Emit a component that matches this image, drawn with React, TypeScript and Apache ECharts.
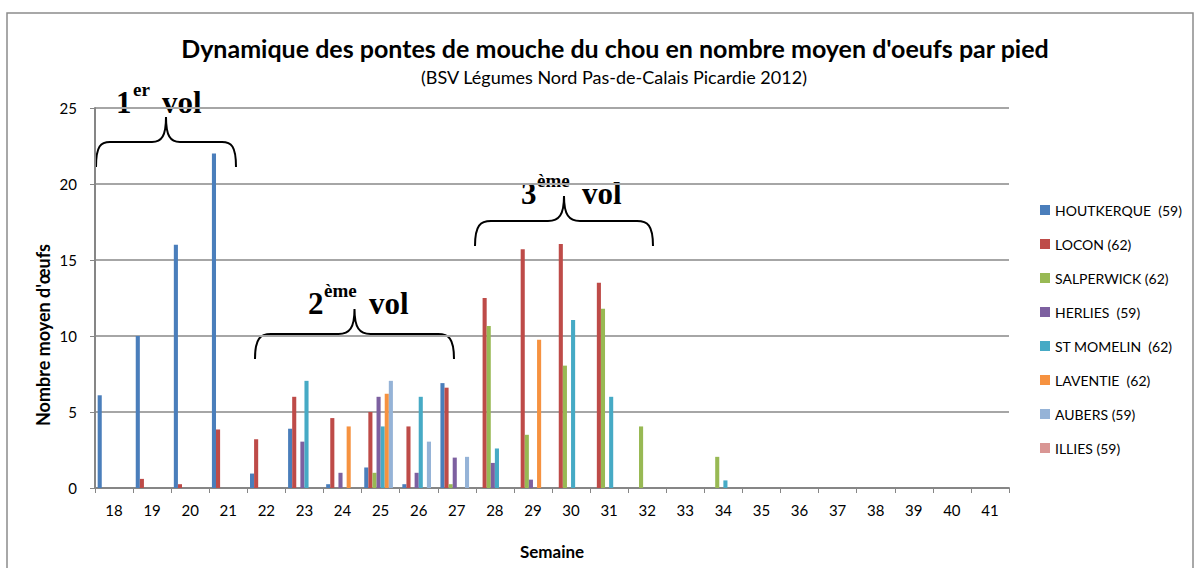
import React, { useEffect, useRef } from "react";
import * as echarts from "echarts";

const weeks = ["18", "19", "20", "21", "22", "23", "24", "25", "26", "27", "28", "29", "30", "31", "32", "33", "34", "35", "36", "37", "38", "39", "40", "41"];

const houtkerque = [6.1, 10, 16, 22, 0.95, 3.9, 0.25, 1.35, 0.25, 6.9, null, null, null, null, null, null, null, null, null, null, null, null, null, null];
const locon = [null, 0.6, 0.25, 3.85, 3.2, 6, 4.6, 5, 4.05, 6.6, 12.5, 15.7, 16.05, 13.5, null, null, null, null, null, null, null, null, null, null];
const salperwick = [null, null, null, null, null, null, null, 1, null, 0.25, 10.65, 3.5, 8.05, 11.8, 4.05, null, 2.05, null, null, null, null, null, null, null];
const herlies = [null, null, null, null, null, 3.05, 1, 6, 1, 2, 1.65, 0.55, null, null, null, null, null, null, null, null, null, null, null, null];
const stMomelin = [null, null, null, null, null, 7.05, null, 4.05, 6, null, 2.6, null, 11.05, 6, null, null, 0.5, null, null, null, null, null, null, null];
const laventie = [null, null, null, null, null, null, 4.05, 6.2, null, null, null, 9.75, null, null, null, null, null, null, null, null, null, null, null, null];
const aubers = [null, null, null, null, null, null, null, 7.05, 3.05, 2.05, null, null, null, null, null, null, null, null, null, null, null, null, null, null];
const illies = [null, null, null, null, null, null, null, null, null, null, null, null, null, null, null, null, null, null, null, null, null, null, null, null];

const seriesNames = ["HOUTKERQUE  (59)", "LOCON (62)", "SALPERWICK (62)", "HERLIES  (59)", "ST MOMELIN  (62)", "LAVENTIE  (62)", "AUBERS (59)", "ILLIES (59)"];
const seriesData = [houtkerque, locon, salperwick, herlies, stMomelin, laventie, aubers, illies];
const seriesColors = ["#4A7EBB", "#BE4B48", "#98B954", "#7D60A0", "#46AAC5", "#F69240", "#95B3D7", "#D99694"];

const yTicks = { min: 0, max: 25, interval: 5 };

const titleText = "Dynamique des pontes de mouche du chou en nombre moyen d'oeufs par pied";
const subtitleText = "(BSV Légumes Nord Pas-de-Calais Picardie 2012)";
const yAxisTitle = "Nombre moyen d'œufs";
const xAxisTitle = "Semaine";

function braceD(w: number, h: number): string {
  const m = h * 0.5;
  const c = Math.min(w * 0.1, 16);
  const hw = w / 2;
  return (
    `M0 ${h} C0 ${m + (h - m) * 0.15} ${c * 0.35} ${m} ${c} ${m} ` +
    `L${hw - c} ${m} C${hw - c * 0.3} ${m} ${hw} ${m * 0.75} ${hw} 0 ` +
    `C${hw} ${m * 0.75} ${hw + c * 0.3} ${m} ${hw + c} ${m} ` +
    `L${w - c} ${m} C${w - c * 0.35} ${m} ${w} ${m + (h - m) * 0.15} ${w} ${h}`
  );
}

let registered = false;
function registerBraces() {
  if (registered) return;
  registered = true;
  echarts.graphic.registerShape("brace1", echarts.graphic.extendPath(braceD(140, 50), {}));
  echarts.graphic.registerShape("brace2", echarts.graphic.extendPath(braceD(199, 50), {}));
  echarts.graphic.registerShape("brace3", echarts.graphic.extendPath(braceD(178, 50), {}));
}

const serif = '"Liberation Serif", "Times New Roman", serif';
const sans = 'Lato, "Noto Sans", sans-serif';

function txt(text: string, x: number, y: number, font: string, extra: any = {}) {
  return {
    type: "text",
    x,
    y,
    style: {
      text,
      font,
      fill: "#000",
      align: "left",
      textAlign: "left",
      verticalAlign: "middle",
      textVerticalAlign: "middle",
      ...extra,
    },
  };
}

export default function App() {
  const ref = useRef<HTMLDivElement>(null);

  useEffect(() => {
    if (!ref.current) return;
    registerBraces();
    const chart = echarts.init(ref.current, null, { renderer: "svg" });

    const big = `bold 31px ${serif}`;
    const sup = `bold 19px ${serif}`;
    const braceStyle = { stroke: "#000", lineWidth: 2, fill: null };

    const option: any = {
      animation: false,
      backgroundColor: "#fff",
      title: [
        {
          text: titleText,
          left: 610,
          textAlign: "center",
          top: 30,
          textStyle: { fontFamily: sans, fontWeight: "bold", fontSize: 25, color: "#000" },
        },
        {
          text: subtitleText,
          left: 609,
          textAlign: "center",
          top: 63,
          textStyle: { fontFamily: sans, fontWeight: "normal", fontSize: 18, color: "#000" },
        },
      ],
      legend: {
        orient: "vertical",
        left: 1035,
        top: 198,
        itemWidth: 10,
        itemHeight: 10,
        itemGap: 20,
        icon: "rect",
        textStyle: { fontFamily: sans, fontSize: 14, color: "#000" },
        data: seriesNames,
      },
      grid: { left: 95, right: 191, top: 108, bottom: 80, containLabel: false },
      xAxis: {
        type: "category",
        data: weeks,
        name: xAxisTitle,
        nameLocation: "middle",
        nameGap: 55,
        nameTextStyle: { fontFamily: sans, fontWeight: "bold", fontSize: 17, color: "#000" },
        axisLine: { lineStyle: { color: "#868686", width: 2 } },
        axisTick: { show: true, length: 5, interval: 0, lineStyle: { color: "#868686", width: 1 } },
        axisLabel: { interval: 0, margin: 14, fontFamily: sans, fontSize: 15, color: "#000" },
      },
      yAxis: {
        type: "value",
        min: yTicks.min,
        max: yTicks.max,
        interval: yTicks.interval,
        axisLine: { show: true, lineStyle: { color: "#868686", width: 2 } },
        axisTick: { show: true, length: 5, lineStyle: { color: "#868686", width: 1 } },
        axisLabel: { margin: 18, fontFamily: sans, fontSize: 15, color: "#000" },
        splitLine: { show: true, lineStyle: { color: "#a6a6a6", width: 2 } },
      },
      series: seriesNames.map((name, i) => ({
        name,
        type: "bar",
        data: seriesData[i],
        barGap: "0%",
        barCategoryGap: "14%",
        itemStyle: { color: seriesColors[i] },
      })),
      graphic: [
        {
          type: "rect",
          shape: { x: 7, y: 13, width: 1186, height: 600 },
          style: { fill: null, stroke: "#8c8c8c", lineWidth: 1.5 },
          silent: true,
          z: -1,
        },
        {
          type: "text",
          x: 43,
          y: 335,
          rotation: Math.PI / 2,
          style: {
            text: yAxisTitle,
            font: `bold 18px ${sans}`,
            fill: "#000",
            align: "center",
            textAlign: "center",
            verticalAlign: "middle",
            textVerticalAlign: "middle",
          },
        },
        { type: "brace1", x: 96, y: 117, style: braceStyle },
        { type: "brace2", x: 255, y: 309, style: braceStyle },
        { type: "brace3", x: 475, y: 196, style: braceStyle },
        txt("1", 116, 102, big),
        txt("er", 133, 89, sup),
        txt("vol", 162, 102, big),
        txt("2", 308, 303, big),
        txt("ème", 324, 290, sup),
        txt("vol", 369, 303, big),
        txt("3", 521, 193, big),
        txt("ème", 537, 180, sup),
        txt("vol", 582, 193, big),
      ],
    };

    chart.setOption(option);
    return () => {
      chart.dispose();
    };
  }, []);

  return (
    <div
      ref={ref}
      style={{ position: "fixed", left: 0, top: 0, width: 1200, height: 568, background: "#fff" }}
    />
  );
}
